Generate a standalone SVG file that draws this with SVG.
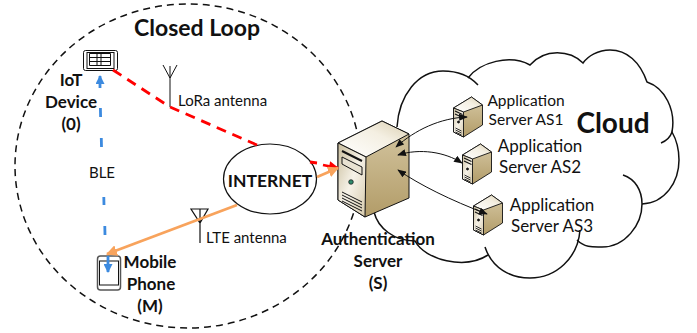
<svg xmlns="http://www.w3.org/2000/svg" width="697" height="333" viewBox="0 0 697 333">
<style>
text{font-family:Lato,"Open Sans","Liberation Sans",sans-serif;fill:#111}
.b{font-weight:700;font-size:17px;text-anchor:middle}
.l{font-size:15px}
.s{font-size:17px;text-anchor:middle}
.a{fill:none;stroke:#111;stroke-width:1}
</style>
<defs>
<linearGradient id="side" x1="0" y1="0" x2="0" y2="1"><stop offset="0" stop-color="#d6c8a4"/><stop offset="1" stop-color="#b29c68"/></linearGradient>
<linearGradient id="front" x1="0" y1="0" x2="1" y2="1"><stop offset="0" stop-color="#c9bd9c"/><stop offset=".5" stop-color="#f6f2e8"/><stop offset="1" stop-color="#d5c9ab"/></linearGradient>
<linearGradient id="top" x1="0" y1="1" x2="1" y2="0"><stop offset="0" stop-color="#fff"/><stop offset=".6" stop-color="#f4efe2"/><stop offset="1" stop-color="#d9cdae"/></linearGradient>
<marker id="k" viewBox="0 0 10 8" refX="9" refY="4" markerWidth="9" markerHeight="7" markerUnits="userSpaceOnUse" orient="auto-start-reverse"><path d="M0 0L10 4L0 8Z" fill="#111"/></marker>
<marker id="or" viewBox="0 0 10 10" refX="9" refY="5" markerWidth="11" markerHeight="11" markerUnits="userSpaceOnUse" orient="auto"><path d="M0 0L10 5L0 10Z" fill="#f8a35c"/></marker>
<marker id="re" viewBox="0 0 10 10" refX="9" refY="5" markerWidth="11" markerHeight="10" markerUnits="userSpaceOnUse" orient="auto"><path d="M0 0L10 5L0 10Z" fill="#f00"/></marker>
<marker id="bl" viewBox="0 0 10 10" refX="9" refY="5" markerWidth="11" markerHeight="9" markerUnits="userSpaceOnUse" orient="auto"><path d="M0 0L10 5L0 10Z" fill="#3c8adf"/></marker>
<g id="srv" stroke="#111" stroke-width="1" stroke-linejoin="round">
<path d="M0 22L44 0L71 13V77L27 96L0 79Z" fill="url(#side)"/>
<path d="M0 22L44 0L71 13L28 36Z" fill="url(#top)"/>
<path d="M0 22L28 36L27 96L0 79Z" fill="url(#front)"/>
<path d="M4 30L24 40" fill="none" stroke-width="2"/>
<path d="M4 36L24 46V54L4 43Z" fill="#e8e2d2"/>
<circle cx="13" cy="61" r="2.300" fill="#2f8a6c" stroke-width=".7"/>
<path d="M4 71L24 81M4 74L24 84M4 77L24 87M4 80L24 90" fill="none"/>
</g>
<g id="mini" stroke="#111" stroke-width=".9" stroke-linejoin="round">
<path d="M0 11L18 0L29 8V28L10 40L0 35Z" fill="url(#side)"/>
<path d="M0 11L18 0L29 8L10 15Z" fill="url(#top)"/>
<path d="M0 11L10 15V40L0 35Z" fill="url(#front)"/>
<path d="M1.500 14L9 17.500M1.500 17L9 20.500" fill="none" stroke-width="1.100"/>
<circle cx="5" cy="25" r="1" fill="#111"/>
<path d="M2 31L8 34M2 33L8 36M2 35L8 38" fill="none" stroke="#333" stroke-width="1"/>
</g>
</defs>
<rect width="697" height="333" fill="#fff"/>
<g id="cloud" fill="none" stroke="#111" stroke-width="1.5">
<path d="M374 212C378 228 394 241 415 241C425 260 465 270 488 255"/>
<path d="M485 247C492 268 510 278 530 278C556 278 578 258 580 230"/>
<path d="M577 240C585 248 594 247 602 247C625 247 642 225 642 204C642 190 635 179 623 175"/>
<path d="M642 204C665 203 679 182 679 160C679 148 676 139 672 132C670 138 666 141 661 143"/>
<path d="M672 132C676 110 665 88 647 82C640 62 627 50 610 50C598 50 588 56 583 63C570 50 545 48 530 65C510 54 480 62 468 78"/>
<path d="M478 85C468 74 455 71 443 71C418 71 399 95 397 127"/>
</g>
<ellipse id="loop" cx="188" cy="166" rx="173" ry="162" fill="none" stroke="#111" stroke-width="1.5" stroke-dasharray="7 5"/>
<g id="lora" fill="none" stroke="#111" stroke-width="1"><path d="M170 107V66M163 65L170 78L177 65"/><text class="l" x="178" y="106" stroke="none">LoRa antenna</text></g>
<g id="lte" fill="none" stroke="#111" stroke-width="1.200"><path d="M200 243V209M191 209H208L200 223Z"/><text class="l" x="206" y="243" stroke="none">LTE antenna</text></g>
<g id="ble"><text class="l" x="102" y="178" text-anchor="middle">BLE</text></g>
<g id="iot">
<rect x="83.500" y="50.500" width="34" height="20" rx="2" fill="#fff" stroke="#111" stroke-width="1"/>
<rect x="87" y="52.500" width="27" height="16" fill="none" stroke="#111" stroke-width="1"/>
<path d="M89.500 53.500H110.500V65.500H89.500ZM89.500 57.500H110.500M89.500 61.500H110.500M97 53.500V65.500M101 53.500V65.500" fill="none" stroke="#111" stroke-width="1"/>
<text class="b" x="71" y="86">IoT</text><text class="b" x="71" y="108">Device</text><text class="b" x="71" y="130">(0)</text>
</g>
<g id="phone">
<rect x="97.500" y="256" width="23" height="34" rx="3" fill="#fff" stroke="#555" stroke-width="1.500"/>
<rect x="99.500" y="261" width="19" height="24" fill="#fff" stroke="#111" stroke-width="1"/>
<text class="b" x="150" y="268">Mobile</text><text class="b" x="151" y="290">Phone</text><text class="b" x="150" y="312">(M)</text>
</g>
<g id="internet"><ellipse cx="270" cy="179" rx="46.500" ry="35" fill="#fff" stroke="#111" stroke-width="1.200"/><text class="b" x="270" y="187" style="font-size:17.500px">INTERNET</text></g>
<g id="auth">
<use href="#srv" transform="translate(338 121)"/>
<text class="b" x="378" y="245">Authentication</text><text class="b" x="378" y="267">Server</text><text class="b" x="378" y="289">(S)</text>
</g>
<g id="as1"><use href="#mini" transform="translate(453.500 97)"/><text class="s" x="526" y="106" style="font-size:15.500px">Application</text><text class="s" x="526" y="125" style="font-size:15.500px">Server AS1</text></g>
<g id="as2"><use href="#mini" transform="translate(462.500 144)"/><text class="s" x="540" y="152">Application</text><text class="s" x="540" y="173">Server AS2</text></g>
<g id="as3"><use href="#mini" transform="translate(473.500 195)"/><text class="s" x="552" y="211">Application</text><text class="s" x="552" y="232">Server AS3</text></g>
<g id="connectors">
<path d="M113 70L170 107L257 145" fill="none" stroke="#f00" stroke-width="2.800" stroke-dasharray="10 7"/>
<path d="M310 162L317 163" fill="none" stroke="#f00" stroke-width="2.800"/>
<path d="M323 165L338 168" fill="none" stroke="#f00" stroke-width="2.800" marker-end="url(#re)"/>
<path d="M317 177L338 168" fill="none" stroke="#f8a35c" stroke-width="2.800" marker-end="url(#or)"/>
<path d="M237 205L107 254" fill="none" stroke="#f8a35c" stroke-width="2.800" marker-end="url(#or)"/>
<path d="M105 235L104.800 226M104 205L103.800 197M101.500 147L101.300 138M100.600 117L100.400 108" fill="none" stroke="#3c8adf" stroke-width="2.800"/>
<path d="M100 88L100 76" fill="none" stroke="#3c8adf" stroke-width="2.800" marker-end="url(#bl)"/>
<path d="M108 256L108 272" fill="none" stroke="#3c8adf" stroke-width="2.800" marker-end="url(#bl)"/>
<path class="a" d="M467 117C440 118 415 130 396 147" marker-start="url(#k)" marker-end="url(#k)"/>
<path class="a" d="M462 163C445 152 420 148 398 155" marker-start="url(#k)" marker-end="url(#k)"/>
<path class="a" d="M487 214C450 200 420 185 398 170" marker-start="url(#k)" marker-end="url(#k)"/>
</g>
<text class="b" x="197" y="36" style="font-size:23px">Closed Loop</text>
<text class="b" x="613" y="133" style="font-size:28px">Cloud</text>
</svg>
